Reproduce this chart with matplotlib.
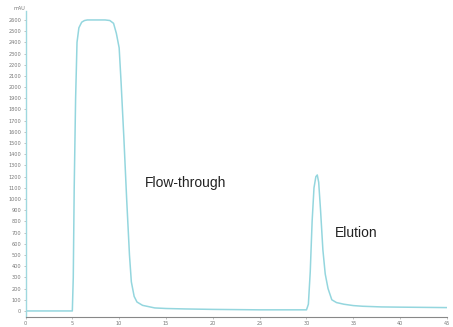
import matplotlib.pyplot as plt
import numpy as np

# chromatogram trace (min, mAU)
time = [0, 2, 5.0, 5.1, 5.2, 5.35, 5.5, 5.7, 6.0, 6.3, 6.6, 7.5, 8.5, 9.0, 9.4, 9.7,
        10.0, 10.2, 10.5, 10.8, 11.1, 11.3, 11.6, 11.9, 12.5, 13.8, 15,
        17, 20, 25, 30.0, 30.2, 30.4, 30.6, 30.8, 31.0, 31.15, 31.3, 31.5, 31.75,
        32.0, 32.3, 32.7, 33.2, 34, 35, 36, 38, 40, 45]
mau = [0, 0, 0, 300, 1100, 1900, 2400, 2530, 2580, 2595, 2600, 2600, 2600, 2595,
       2570, 2480, 2350, 2050, 1550, 1000, 500, 260, 130, 80, 50, 27, 22,
       18, 14, 10, 10, 60, 350, 800, 1100, 1200, 1215, 1150, 900, 545, 330, 200,
       100, 75, 60, 48, 42, 36, 34, 30]

yticks = list(range(0, 2700, 100))
xticks = list(range(0, 50, 5))

fig = plt.figure(figsize=(4.53, 3.27), dpi=100)
ax = fig.add_axes([25.5 / 453, 10 / 327, (447 - 25.5) / 453, 306 / 327])

ax.plot(time, mau, color="#94d6de", lw=1.1, solid_joinstyle="round")

ax.set_xlim(0, 45)
ax.set_ylim(-54, 2680)
ax.set_xticks(xticks)
ax.set_yticks(yticks)
ax.tick_params(axis="both", labelsize=3.6, labelcolor="#777", color="#aaa",
               length=1.5, width=0.5, pad=1.5)

for s in ["top", "right"]:
    ax.spines[s].set_visible(False)
ax.spines["left"].set_color("#9fd8df")
ax.spines["left"].set_linewidth(1.0)
ax.spines["bottom"].set_color("#888")
ax.spines["bottom"].set_linewidth(0.8)

ax.text(0, 1.0, "mAU", transform=ax.transAxes, fontsize=3.6, color="#777",
        ha="right", va="bottom")

ax.text(12.75, 1144, "Flow-through", fontsize=10, family="Liberation Sans",
        va="center", ha="left", color="#222")
ax.text(33.0, 697, "Elution", fontsize=10, family="Liberation Sans",
        va="center", ha="left", color="#222")

plt.savefig("out.png", dpi=100)
